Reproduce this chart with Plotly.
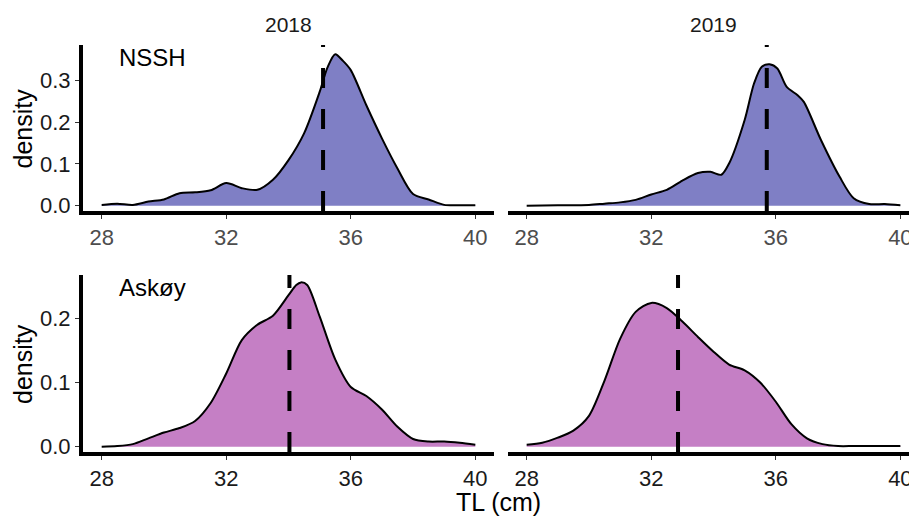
import plotly.graph_objects as go

# ---- data ----
years = ["2018", "2019"]
sites = ["NSSH", "Askøy"]

nssh_2018_x = [28, 28.5, 29, 29.5, 30, 30.5, 31, 31.5, 32, 32.5, 33, 33.5, 34, 34.5, 35, 35.25, 35.5, 35.75, 36, 36.5, 37, 37.5, 38, 38.5, 39, 39.5, 40]
nssh_2018_y = [0.002, 0.005, 0.002, 0.010, 0.015, 0.030, 0.032, 0.037, 0.054, 0.042, 0.038, 0.062, 0.109, 0.173, 0.272, 0.330, 0.362, 0.346, 0.324, 0.240, 0.161, 0.089, 0.028, 0.015, 0.002, 0.001, 0.001]

nssh_2019_x = [28, 29, 30, 30.5, 31, 31.5, 32, 32.5, 33, 33.5, 33.9, 34.25, 34.5, 35, 35.3, 35.55, 35.8, 36.05, 36.35, 36.7, 36.9, 37.45, 38.05, 38.5, 39, 39.5, 40]
nssh_2019_y = [0.0, 0.001, 0.002, 0.005, 0.008, 0.014, 0.027, 0.038, 0.060, 0.078, 0.081, 0.074, 0.101, 0.205, 0.292, 0.332, 0.338, 0.328, 0.284, 0.264, 0.248, 0.157, 0.069, 0.018, 0.004, 0.004, 0.001]

askoy_2018_x = [28, 28.5, 29, 29.5, 30, 30.5, 31, 31.5, 32, 32.5, 33, 33.5, 34, 34.25, 34.4, 34.6, 35, 35.5, 36, 36.5, 37, 37.5, 38, 38.5, 39, 39.5, 40]
askoy_2018_y = [0.0, 0.001, 0.004, 0.013, 0.022, 0.029, 0.040, 0.068, 0.114, 0.166, 0.190, 0.204, 0.236, 0.252, 0.256, 0.252, 0.203, 0.136, 0.093, 0.079, 0.058, 0.031, 0.012, 0.008, 0.008, 0.006, 0.003]

askoy_2019_x = [28, 28.5, 29, 29.5, 30, 30.5, 31, 31.5, 32, 32.5, 33, 33.5, 34, 34.5, 35, 35.5, 36, 36.5, 37, 37.5, 38, 38.5, 39, 39.5, 40]
askoy_2019_y = [0.003, 0.006, 0.014, 0.025, 0.048, 0.103, 0.168, 0.210, 0.224, 0.216, 0.195, 0.171, 0.148, 0.128, 0.119, 0.100, 0.070, 0.035, 0.013, 0.004, 0.001, 0.001, 0.001, 0.001, 0.001]

mean_tl = [35.11, 35.71, 34.03, 32.86]   # NSSH-2018, NSSH-2019, Askøy-2018, Askøy-2019

x_ticks = [28, 32, 36, 40]
y_ticks_top = [0.0, 0.1, 0.2, 0.3]
y_ticks_bottom = [0.0, 0.1, 0.2]

# ---- styling ----
W, H = 909, 517
FONT = "Liberation Sans, Arial, sans-serif"
fill_top = "rgb(127,127,197)"
fill_bot = "rgb(197,127,197)"
TICK_SIZE = 22

def px_x(p):
    return p / W

def px_y(p):
    return 1 - p / H

scale = 31.14
left_dom = [px_x(83), px_x(494)]
right_dom = [px_x(508), 1.0]
top_dom = [px_y(211), px_y(45)]
bot_dom = [px_y(452), px_y(275)]
xr_left = [27.4, 40.6]
xr_right = [27.4, 27.4 + (W - 508) / scale]
yr_top = [-0.0126, 0.384]
yr_bot = [-0.0083, 0.2675]

fig = go.Figure()

panels = [
    (nssh_2018_x, nssh_2018_y, fill_top, "x", "y"),
    (nssh_2019_x, nssh_2019_y, fill_top, "x2", "y2"),
    (askoy_2018_x, askoy_2018_y, fill_bot, "x3", "y3"),
    (askoy_2019_x, askoy_2019_y, fill_bot, "x4", "y4"),
]
for xs, ys, fc, xa, ya in panels:
    fig.add_trace(go.Scatter(
        x=xs, y=ys, mode="lines", xaxis=xa, yaxis=ya,
        line=dict(color="black", width=2, shape="spline", smoothing=0.8),
        fill="tozeroy", fillcolor=fc, showlegend=False, hoverinfo="skip"))

for (xs, ys, fc, xa, ya), m in zip(panels, mean_tl):
    fig.add_shape(type="line", xref=xa, yref=ya + " domain", x0=m, x1=m, y0=0, y1=1,
                  line=dict(color="black", width=4, dash="20px,21px"), layer="above")

def xaxis(dom, rng, anchor, tickcolor):
    return dict(domain=dom, range=rng, anchor=anchor, tickvals=x_ticks,
                ticktext=[str(t) for t in x_ticks], ticks="outside", ticklen=4,
                tickwidth=1, tickcolor="#333333", showline=True, linewidth=4,
                linecolor="black", showgrid=False, zeroline=False,
                ticklabeloverflow="allow", automargin=False,
                tickfont=dict(family=FONT, size=TICK_SIZE, color=tickcolor))

def yaxis(dom, rng, anchor, tv, show):
    return dict(domain=dom, range=rng, anchor=anchor, tickvals=tv,
                ticktext=[f"{v:.1f}" for v in tv], ticks="outside" if show else "",
                ticklen=4, tickwidth=1, tickcolor="#333333", showline=show,
                linewidth=4, linecolor="black", showgrid=False, zeroline=False,
                showticklabels=show, automargin=False,
                tickfont=dict(family=FONT, size=TICK_SIZE, color="#1a1a1a"))

fig.update_layout(
    width=W, height=H, margin=dict(l=0, r=0, t=0, b=0, autoexpand=False),
    paper_bgcolor="white", plot_bgcolor="white",
    font=dict(family=FONT, color="#1a1a1a"),
    xaxis=xaxis(left_dom, xr_left, "y", "#4d4d4d"),
    xaxis2=xaxis(right_dom, xr_right, "y2", "#4d4d4d"),
    xaxis3=xaxis(left_dom, xr_left, "y3", "#1a1a1a"),
    xaxis4=xaxis(right_dom, xr_right, "y4", "#1a1a1a"),
    yaxis=yaxis(top_dom, yr_top, "x", y_ticks_top, True),
    yaxis2=yaxis(top_dom, yr_top, "x2", y_ticks_top, False),
    yaxis3=yaxis(bot_dom, yr_bot, "x3", y_ticks_bottom, True),
    yaxis4=yaxis(bot_dom, yr_bot, "x4", y_ticks_bottom, False),
)

ann = []
# strip labels
ann.append(dict(text=years[0], x=(83 + 494) / 2 / W, y=px_y(25), xref="paper", yref="paper",
                xanchor="center", yanchor="middle",
                showarrow=False, font=dict(family=FONT, size=21, color="#1a1a1a")))
ann.append(dict(text=years[1], x=(508 + 918.7) / 2 / W, y=px_y(25), xref="paper", yref="paper",
                xanchor="center", yanchor="middle",
                showarrow=False, font=dict(family=FONT, size=21, color="#1a1a1a")))
# site labels
ann.append(dict(text=sites[0], x=28.5, y=0.355, xref="x", yref="y", xanchor="left", yanchor="middle",
                showarrow=False, font=dict(family=FONT, size=24, color="black")))
ann.append(dict(text=sites[1], x=28.5, y=0.248, xref="x3", yref="y3", xanchor="left", yanchor="middle",
                showarrow=False, font=dict(family=FONT, size=24, color="black")))
# axis titles
for yc in [(45 + 212) / 2, (275 + 453) / 2]:
    ann.append(dict(text="density", x=px_x(23), y=px_y(yc), xref="paper", yref="paper",
                    xanchor="center", yanchor="middle",
                    textangle=-90, showarrow=False, font=dict(family=FONT, size=25, color="black")))
ann.append(dict(text="TL (cm)", x=499 / W, y=px_y(502), xref="paper", yref="paper",
                xanchor="center", yanchor="middle",
                showarrow=False, font=dict(family=FONT, size=25, color="black")))
fig.update_layout(annotations=ann)

fig.write_html("out.html", config={"displayModeBar": False},
               post_script="document.body.style.margin='0px';document.body.style.overflow='hidden';")
